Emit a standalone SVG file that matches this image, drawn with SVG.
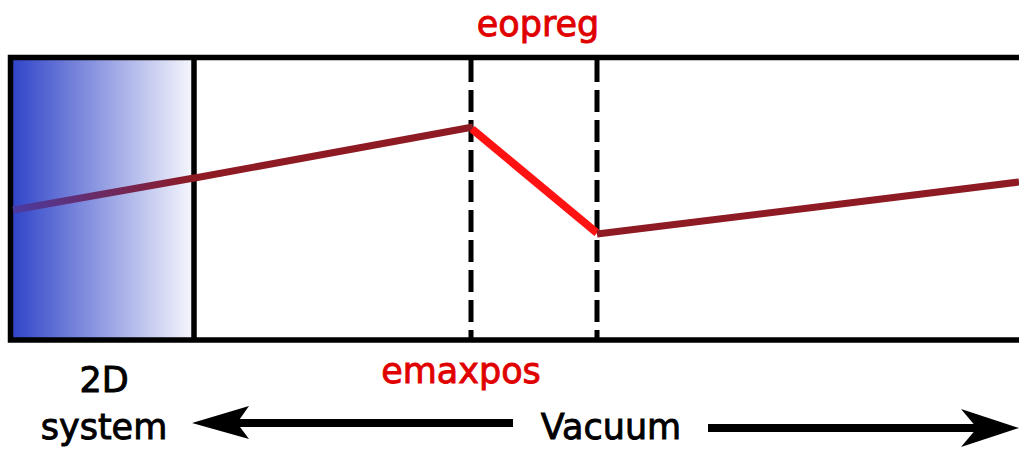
<svg xmlns="http://www.w3.org/2000/svg" width="1019" height="453" viewBox="0 0 1019 453">
  <defs>
    <linearGradient id="blueGrad" x1="0" y1="0" x2="1" y2="0">
      <stop offset="0" stop-color="#3044c8"/>
      <stop offset="1" stop-color="#3044c8" stop-opacity="0.05"/>
    </linearGradient>
    <linearGradient id="lineGrad" gradientUnits="userSpaceOnUse" x1="13" y1="0" x2="194" y2="0">
      <stop offset="0" stop-color="#4a3aa0"/>
      <stop offset="1" stop-color="#8e1a24"/>
    </linearGradient>
    <style>
      .frame { fill: none; stroke: #000; stroke-width: 5.5; }
      .dash { fill: none; stroke: #000; stroke-width: 5; stroke-dasharray: 22 8; }
      .pot { fill: none; stroke: #8e1a24; stroke-width: 7; stroke-linejoin: miter; }
      .hot { fill: none; stroke: #ff1212; stroke-width: 8; }
      .lbl { font-family: "DejaVu Sans", sans-serif; font-size: 35px; text-anchor: middle; stroke-width: 0.9px; }
      .red { fill: #e00000; stroke: #e00000; }
      .blk { fill: #000; stroke: #000; }
      .shaft { stroke: #000; stroke-width: 8; fill: none; }
      .head { fill: #000; }
    </style>
  </defs>

  <g id="system2d">
    <rect x="12" y="59" width="180" height="279" fill="url(#blueGrad)"/>
  </g>

  <g id="frame">
    <path class="frame" d="M1019,57.5 H10.5 V340 H1019"/>
    <line class="frame" x1="194" y1="57" x2="194" y2="340"/>
  </g>

  <g id="region-bounds">
    <line class="dash" x1="471" y1="60" x2="471" y2="338"/>
    <line class="dash" x1="597" y1="60" x2="597" y2="338"/>
  </g>

  <g id="potential">
    <line x1="13" y1="210" x2="194" y2="178" stroke="url(#lineGrad)" stroke-width="7"/>
    <polyline class="pot" points="192,178.5 473,127"/>
    <line class="hot" x1="472" y1="129" x2="597" y2="233"/>
    <line class="pot" x1="597" y1="234" x2="1019" y2="182"/>
  </g>

  <g id="labels">
    <text class="lbl red" x="538" y="36">eopreg</text>
    <text class="lbl red" x="461" y="383">emaxpos</text>
    <text class="lbl blk" x="104" y="392">2D</text>
    <text class="lbl blk" x="104" y="439">system</text>
    <text class="lbl blk" x="611" y="439">Vacuum</text>
  </g>

  <g id="connectors">
    <line class="shaft" x1="235" y1="423" x2="513" y2="423"/>
    <path class="head" d="M192,423 L249,406 L237,423 L249,439 Z"/>
    <line class="shaft" x1="708" y1="428" x2="980" y2="428"/>
    <path class="head" d="M1019,428 L961,409 L977,428 L961,447 Z"/>
  </g>
</svg>
